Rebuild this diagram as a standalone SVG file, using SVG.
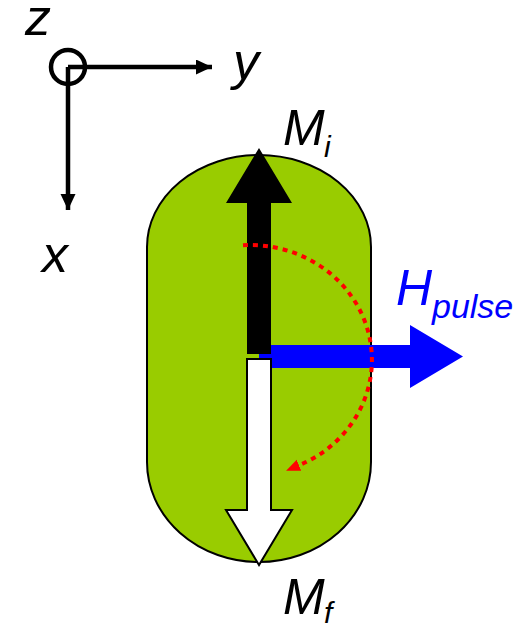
<svg xmlns="http://www.w3.org/2000/svg" width="528" height="625" viewBox="0 0 528 625">
<style>
.lbl{font-family:"Liberation Sans",Arial,sans-serif;font-style:italic;}
.axis{stroke:#000;stroke-width:4.5;fill:none;}
</style>
<defs>
<marker id="ah" markerUnits="userSpaceOnUse" markerWidth="18" markerHeight="16" refX="16" refY="7.5" orient="auto">
<path d="M0,0 L16,7.5 L0,15 z" fill="#000"/>
</marker>
<marker id="rh" markerUnits="userSpaceOnUse" markerWidth="16" markerHeight="14" refX="0" refY="6" orient="auto">
<path d="M0,0 L14,6 L0,12 z" fill="#FF0000"/>
</marker>
</defs>
<g id="axes">
<circle cx="68" cy="67" r="17" class="axis" stroke-width="3.5"/>
<line x1="68" y1="67" x2="212" y2="67" class="axis" marker-end="url(#ah)"/>
<line x1="68" y1="67" x2="68" y2="210" class="axis" marker-end="url(#ah)"/>
<text class="lbl" x="25" y="35" font-size="52">z</text>
<text class="lbl" x="233" y="79" font-size="52">y</text>
<text class="lbl" x="42" y="272" font-size="52">x</text>
</g>
<g id="capsule">
<path d="M147,247 A112,92 0 0 1 371,247 L371,462 A112,100 0 0 1 147,462 Z" fill="#99CC00" stroke="#000" stroke-width="2"/>
</g>
<g id="h-pulse">
<polygon points="259,345 410,345 410,325 463,356.5 410,388 410,368 259,368" fill="#0000FF"/>
<text class="lbl" x="396" y="305" font-size="50" fill="#0000FF">H<tspan x="432" y="318" font-size="34">pulse</tspan></text>
</g>
<g id="m-initial">
<polygon points="247,354 271,354 271,203 292,203 259,148 226,203 247,203" fill="#000"/>
<text class="lbl" x="283" y="145" font-size="50">M<tspan x="324" y="157" font-size="30">i</tspan></text>
</g>
<g id="m-final">
<polygon points="247,359 271,359 271,510 292,510 259,565 226,510 247,510" fill="#FFFFFF" stroke="#000" stroke-width="2"/>
<text class="lbl" x="283" y="614" font-size="50">M<tspan x="324" y="623" font-size="30">f</tspan></text>
</g>
<g id="connectors">
<path d="M243,245.2 A122,115 0 0 1 299,465.3" fill="none" stroke="#FF0000" stroke-width="4" stroke-dasharray="5 5" marker-end="url(#rh)"/>
</g>
</svg>
